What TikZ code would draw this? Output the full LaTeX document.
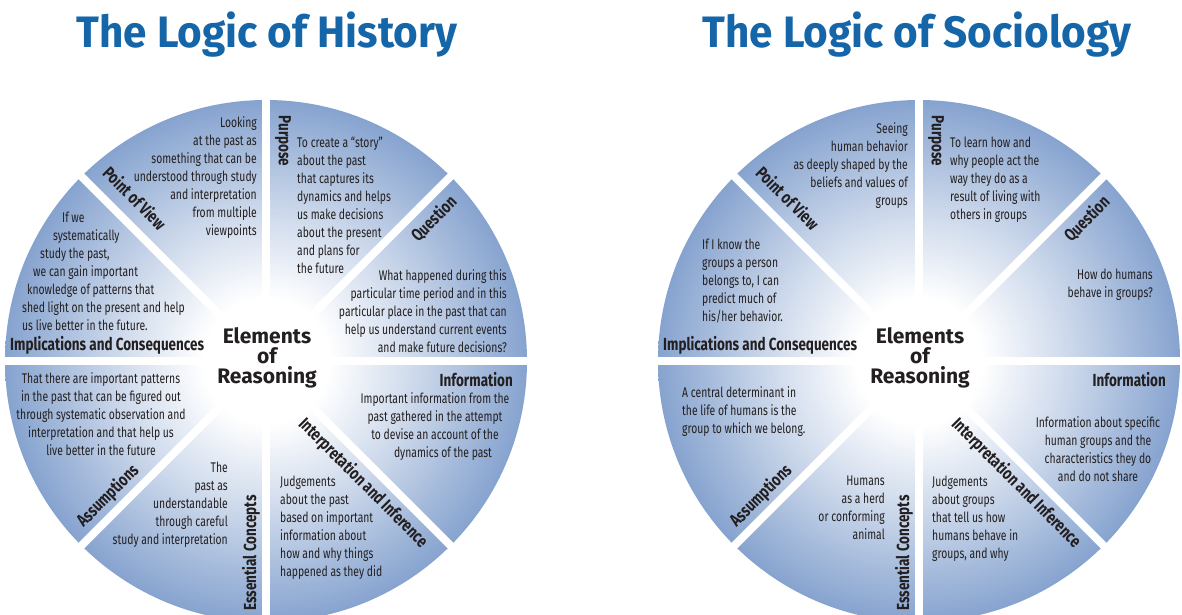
\documentclass[tikz,border=0pt]{standalone}
\usepackage{fontspec}
\setmainfont{Fira Sans}
\newfontfamily\bodyfont{Fira Sans}[FakeStretch=0.74]
\newfontfamily\labfont{Fira Sans}[FakeStretch=0.77]
\newfontfamily\titfont{Fira Sans}[FakeStretch=0.96]
\definecolor{titleblue}{RGB}{21,101,169}
\definecolor{edgeblue}{RGB}{134,163,207}
\colorlet{midblue}{edgeblue!45!white}
\definecolor{inkgray}{RGB}{35,31,32}
\pgfdeclareradialshading{wheelshade}{\pgfpoint{0bp}{0bp}}{color(0bp)=(white); color(6bp)=(white); color(15bp)=(midblue); color(25bp)=(edgeblue); color(50bp)=(edgeblue)}
\tikzset{
  body/.style={font={\bodyfont\fontsize{14}{18}\selectfont}, text=inkgray, inner sep=0pt},
  lab/.style={font={\labfont\bfseries\fontsize{17.5}{18}\selectfont}, text=inkgray, inner sep=0pt},
  ttl/.style={font={\titfont\bfseries\fontsize{44}{44}\selectfont}, text=titleblue, inner sep=0pt},
  elem/.style={font={\bfseries\fontsize{21}{20}\selectfont}, text=inkgray, align=center, inner sep=0pt},
  gap/.style={white, line width=8pt},
}
\newcommand\drawwheel[2]{%
  \begin{scope}[shift={(#1)}]
    \shade[shading=wheelshade] (0,0) circle (261);
    \foreach \a in {0,45,...,315} \draw[gap] (0,0) -- (\a:272);
    \node[lab, rotate=-90] (#2-purpose) at (17,220) {Purpose};
    \node[lab, rotate=45] (#2-question) at (168,142) {Question};
    \node[lab, anchor=east] (#2-information) at (247,-19) {Information};
    \node[lab, rotate=-45] (#2-interp) at (97,-122) {Interpretation and Inference};
    \node[lab, rotate=90] (#2-concepts) at (-15,-192) {Essential Concepts};
    \node[lab, rotate=45] (#2-assumptions) at (-158,-135) {Assumptions};
    \node[lab, anchor=west] (#2-implications) at (-256,16) {Implications and Consequences};
    \node[lab, rotate=-45] (#2-pov) at (-131,163) {Point of View};
    \node[elem] (#2-elements) at (1,3) {Elements\\of\\Reasoning};
  \end{scope}}
\begin{document}
\begin{tikzpicture}[x=1pt,y=1pt]
  \useasboundingbox (0,0) rectangle (1182,-614);
  \clip (0,0) rectangle (1182,-614);
  \fill[white] (0,0) rectangle (1182,-614);
  \coordinate (hc) at (266,-361);
  \coordinate (sc) at (919,-361);
  \node[ttl, anchor=base] (h-title) at (267,-47) {The Logic of History};
  \node[ttl, anchor=base] (s-title) at (917,-47) {The Logic of Sociology};
  \drawwheel{hc}{h}
  \drawwheel{sc}{s}
  % History texts
  \node[body, anchor=north east, align=right] (h-pov-t) at (257,-116)
    {Looking\\at the past as\\something that can be\\understood through study\\and interpretation\\from multiple\\viewpoints};
  \node[body, anchor=north west, align=left] (h-purpose-t) at (297,-137)
    {To create a “story”\\about the past\\that captures its\\dynamics and helps\\us make decisions\\about the present\\and plans for\\the future};
  \node[body, anchor=north east, align=right] (h-question-t) at (507,-269)
    {What happened during this\\particular time period and in this\\particular place in the past that can\\help us understand current events\\and make future decisions?};
  \node[body, anchor=north, align=center] (h-info-t) at (435,-392)
    {Important information from the\\past gathered in the attempt\\to devise an account of the\\\hspace*{16pt}dynamics of the past};
  \node[body, anchor=north west, align=left] (h-interp-t) at (280,-476)
    {Judgements\\about the past\\based on important\\information about\\how and why things\\happened as they did};
  \node[body, anchor=north east, align=right] (h-concepts-t) at (228,-462)
    {The\\past as\\understandable\\through careful\\study and interpretation};
  \node[body, anchor=north, align=center] (h-assump-t) at (101,-372)
    {That there are important patterns\\in the past that can be figured out\\through systematic observation and\\interpretation and that help us\\live better in the future};
  \node[body, anchor=north west, align=left] (h-impl-t) at (22,-212)
    {\hspace*{40pt}If we\\\hspace*{31pt}systematically\\\hspace*{18pt}study the past,\\\hspace*{11pt}we can gain important\\\hspace*{5pt}knowledge of patterns that\\shed light on the present and help\\us live better in the future.};
  % Sociology texts
  \node[body, anchor=north east, align=right] (s-pov-t) at (908,-122)
    {Seeing\\human behavior\\as deeply shaped by the\\beliefs and values of\\groups};
  \node[body, anchor=north west, align=left] (s-purpose-t) at (950,-137)
    {To learn how and\\why people act the\\way they do as a\\result of living with\\others in groups};
  \node[body, anchor=north east, align=right] (s-question-t) at (1153,-269)
    {How do humans\\behave in groups?};
  \node[body, anchor=north, align=center] (s-info-t) at (1098,-416)
    {Information about specific\\human groups and the\\characteristics they do\\and do not share};
  \node[body, anchor=north west, align=left] (s-interp-t) at (932,-476)
    {Judgements\\about groups\\that tell us how\\humans behave in\\groups, and why};
  \node[body, anchor=north east, align=right] (s-concepts-t) at (885,-476)
    {Humans\\as a herd\\or conforming\\animal};
  \node[body, anchor=north west, align=left] (s-assump-t) at (682,-386)
    {A central determinant in\\the life of humans is the\\group to which we belong.};
  \node[body, anchor=north west, align=left] (s-impl-t) at (702,-239)
    {If I know the\\groups a person\\belongs to, I can\\predict much of\\his/her behavior.};
\end{tikzpicture}
\end{document}
